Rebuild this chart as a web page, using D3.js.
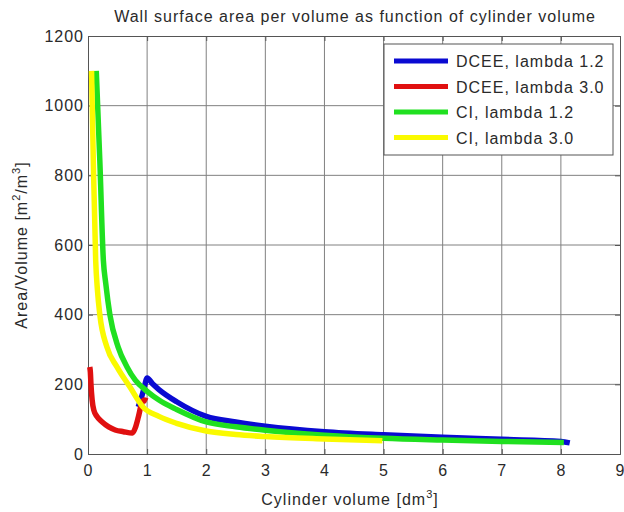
<!DOCTYPE html>
<html><head><meta charset="utf-8">
<script src="https://cdn.jsdelivr.net/npm/d3@7"></script>
<style>body{margin:0;background:#fff;} text{font-family:"Liberation Sans",Arial,sans-serif;fill:#2a2a2a;letter-spacing:1px;}</style>
</head><body>
<svg id="c" width="624" height="512"></svg>
<script>
const xTicks = [0,1,2,3,4,5,6,7,8,9];
const yTicks = [0,200,400,600,800,1000,1200];
const seriesNames = ["DCEE, lambda 1.2","DCEE, lambda 3.0","CI, lambda 1.2","CI, lambda 3.0"];
const seriesColors = ["#0a0ad2","#e01010","#20e020","#fafa00"];

const dceeL12V = [0.85,0.9,0.95,1.0,1.1,1.2,1.5,2.0,2.5,3.0,4.0,5.0,6.0,7.0,8.0,8.15];
const dceeL12A = [135,160,190,218,200,185,150,108,92,80,64,55,48,42,36,32];

const dceeL30V = [0.03,0.04,0.05,0.07,0.1,0.15,0.24,0.35,0.46,0.6,0.75,0.8,0.85,0.9,0.95,1.0];
const dceeL30A = [250,235,200,155,125,108,92,78,69,64,60,75,105,140,155,152];

const ciL12V = [0.14,0.2,0.26,0.3,0.37,0.51,0.66,0.8,1.0,1.2,1.5,2.0,2.5,3.0,4.0,5.0,6.0,7.0,8.05];
const ciL12A = [1100,842,556,490,400,307,250,212,180,155,128,92,78,68,54,45,40,36,33];

const ciL30V = [0.06,0.09,0.13,0.16,0.2,0.32,0.49,0.71,0.93,1.2,1.5,2.0,2.5,3.0,4.0,4.98];
const ciL30A = [1100,842,556,470,400,307,250,192,135,108,88,66,56,50,43,38];

const seriesV = [dceeL12V,dceeL30V,ciL12V,ciL30V];
const seriesA = [dceeL12A,dceeL30A,ciL12A,ciL30A];

const svg = d3.select("#c");
const L=88,R=620,T=36,B=454;
const x = d3.scaleLinear().domain([0,9]).range([L,R]);
const y = d3.scaleLinear().domain([0,1200]).range([B,T]);

// grid
const g = svg.append("g");
g.selectAll(".gx").data(xTicks.slice(1,-1)).enter().append("line")
 .attr("x1",d=>x(d)).attr("x2",d=>x(d)).attr("y1",T).attr("y2",B)
 .attr("stroke","#808080").attr("stroke-width",1);
g.selectAll(".gy").data(yTicks.slice(1,-1)).enter().append("line")
 .attr("x1",L).attr("x2",R).attr("y1",d=>y(d)).attr("y2",d=>y(d))
 .attr("stroke","#808080").attr("stroke-width",1);

// axes
const xa = d3.axisBottom(x).tickValues(xTicks).tickSize(-5).tickPadding(11).tickFormat(d3.format("d"));
const ya = d3.axisLeft(y).tickValues(yTicks).tickSize(-5).tickPadding(4).tickFormat(d3.format("d"));
const xt = d3.axisTop(x).tickValues(xTicks).tickSize(-5).tickFormat("");
const yr = d3.axisRight(y).tickValues(yTicks).tickSize(-5).tickFormat("");
function style(sel){sel.selectAll("path,line").attr("stroke","#555");sel.selectAll("text").attr("font-size",16).attr("fill","#2a2a2a").style("font-family","Liberation Sans, Arial, sans-serif");}
svg.append("g").attr("transform",`translate(0,${B})`).call(xa).call(style);
svg.append("g").attr("transform",`translate(${L},0)`).call(ya).call(style);
svg.append("g").attr("transform",`translate(0,${T})`).call(xt).call(style);
svg.append("g").attr("transform",`translate(${R},0)`).call(yr).call(style);

// lines
const line = d3.line().x(d=>x(d[0])).y(d=>y(d[1])).curve(d3.curveMonotoneX);
seriesV.forEach((vs,i)=>{
  const pts = vs.map((v,j)=>[v,seriesA[i][j]]);
  svg.append("path").attr("d",line(pts)).attr("fill","none")
   .attr("stroke",seriesColors[i]).attr("stroke-width",5.5).attr("stroke-linejoin","round");
});

// legend
const lg = svg.append("g");
lg.append("rect").attr("x",384).attr("y",44).attr("width",229).attr("height",111)
 .attr("fill","#fff").attr("stroke","#555").attr("stroke-width",1);
seriesNames.forEach((n,i)=>{
  const yy = 61 + i*25.5;
  lg.append("line").attr("x1",394).attr("x2",448).attr("y1",yy).attr("y2",yy)
   .attr("stroke",seriesColors[i]).attr("stroke-width",5);
  lg.append("text").attr("x",456).attr("y",yy+6).attr("font-size",16).text(n);
});

// title and labels
svg.append("text").attr("x",355).attr("y",22).attr("text-anchor","middle").attr("font-size",16)
 .text("Wall surface area per volume as function of cylinder volume");
const xl = svg.append("text").attr("x",350).attr("y",505).attr("text-anchor","middle").attr("font-size",16);
xl.append("tspan").text("Cylinder volume [dm");
xl.append("tspan").attr("dy",-7).attr("font-size",11).text("3");
xl.append("tspan").attr("dy",7).text("]");
const yl = svg.append("text").attr("transform","translate(27,245) rotate(-90)").attr("text-anchor","middle").attr("font-size",16);
yl.append("tspan").text("Area/Volume [m");
yl.append("tspan").attr("dy",-7).attr("font-size",11).text("2");
yl.append("tspan").attr("dy",7).text("/m");
yl.append("tspan").attr("dy",-7).attr("font-size",11).text("3");
yl.append("tspan").attr("dy",7).text("]");
</script>
</body></html>
